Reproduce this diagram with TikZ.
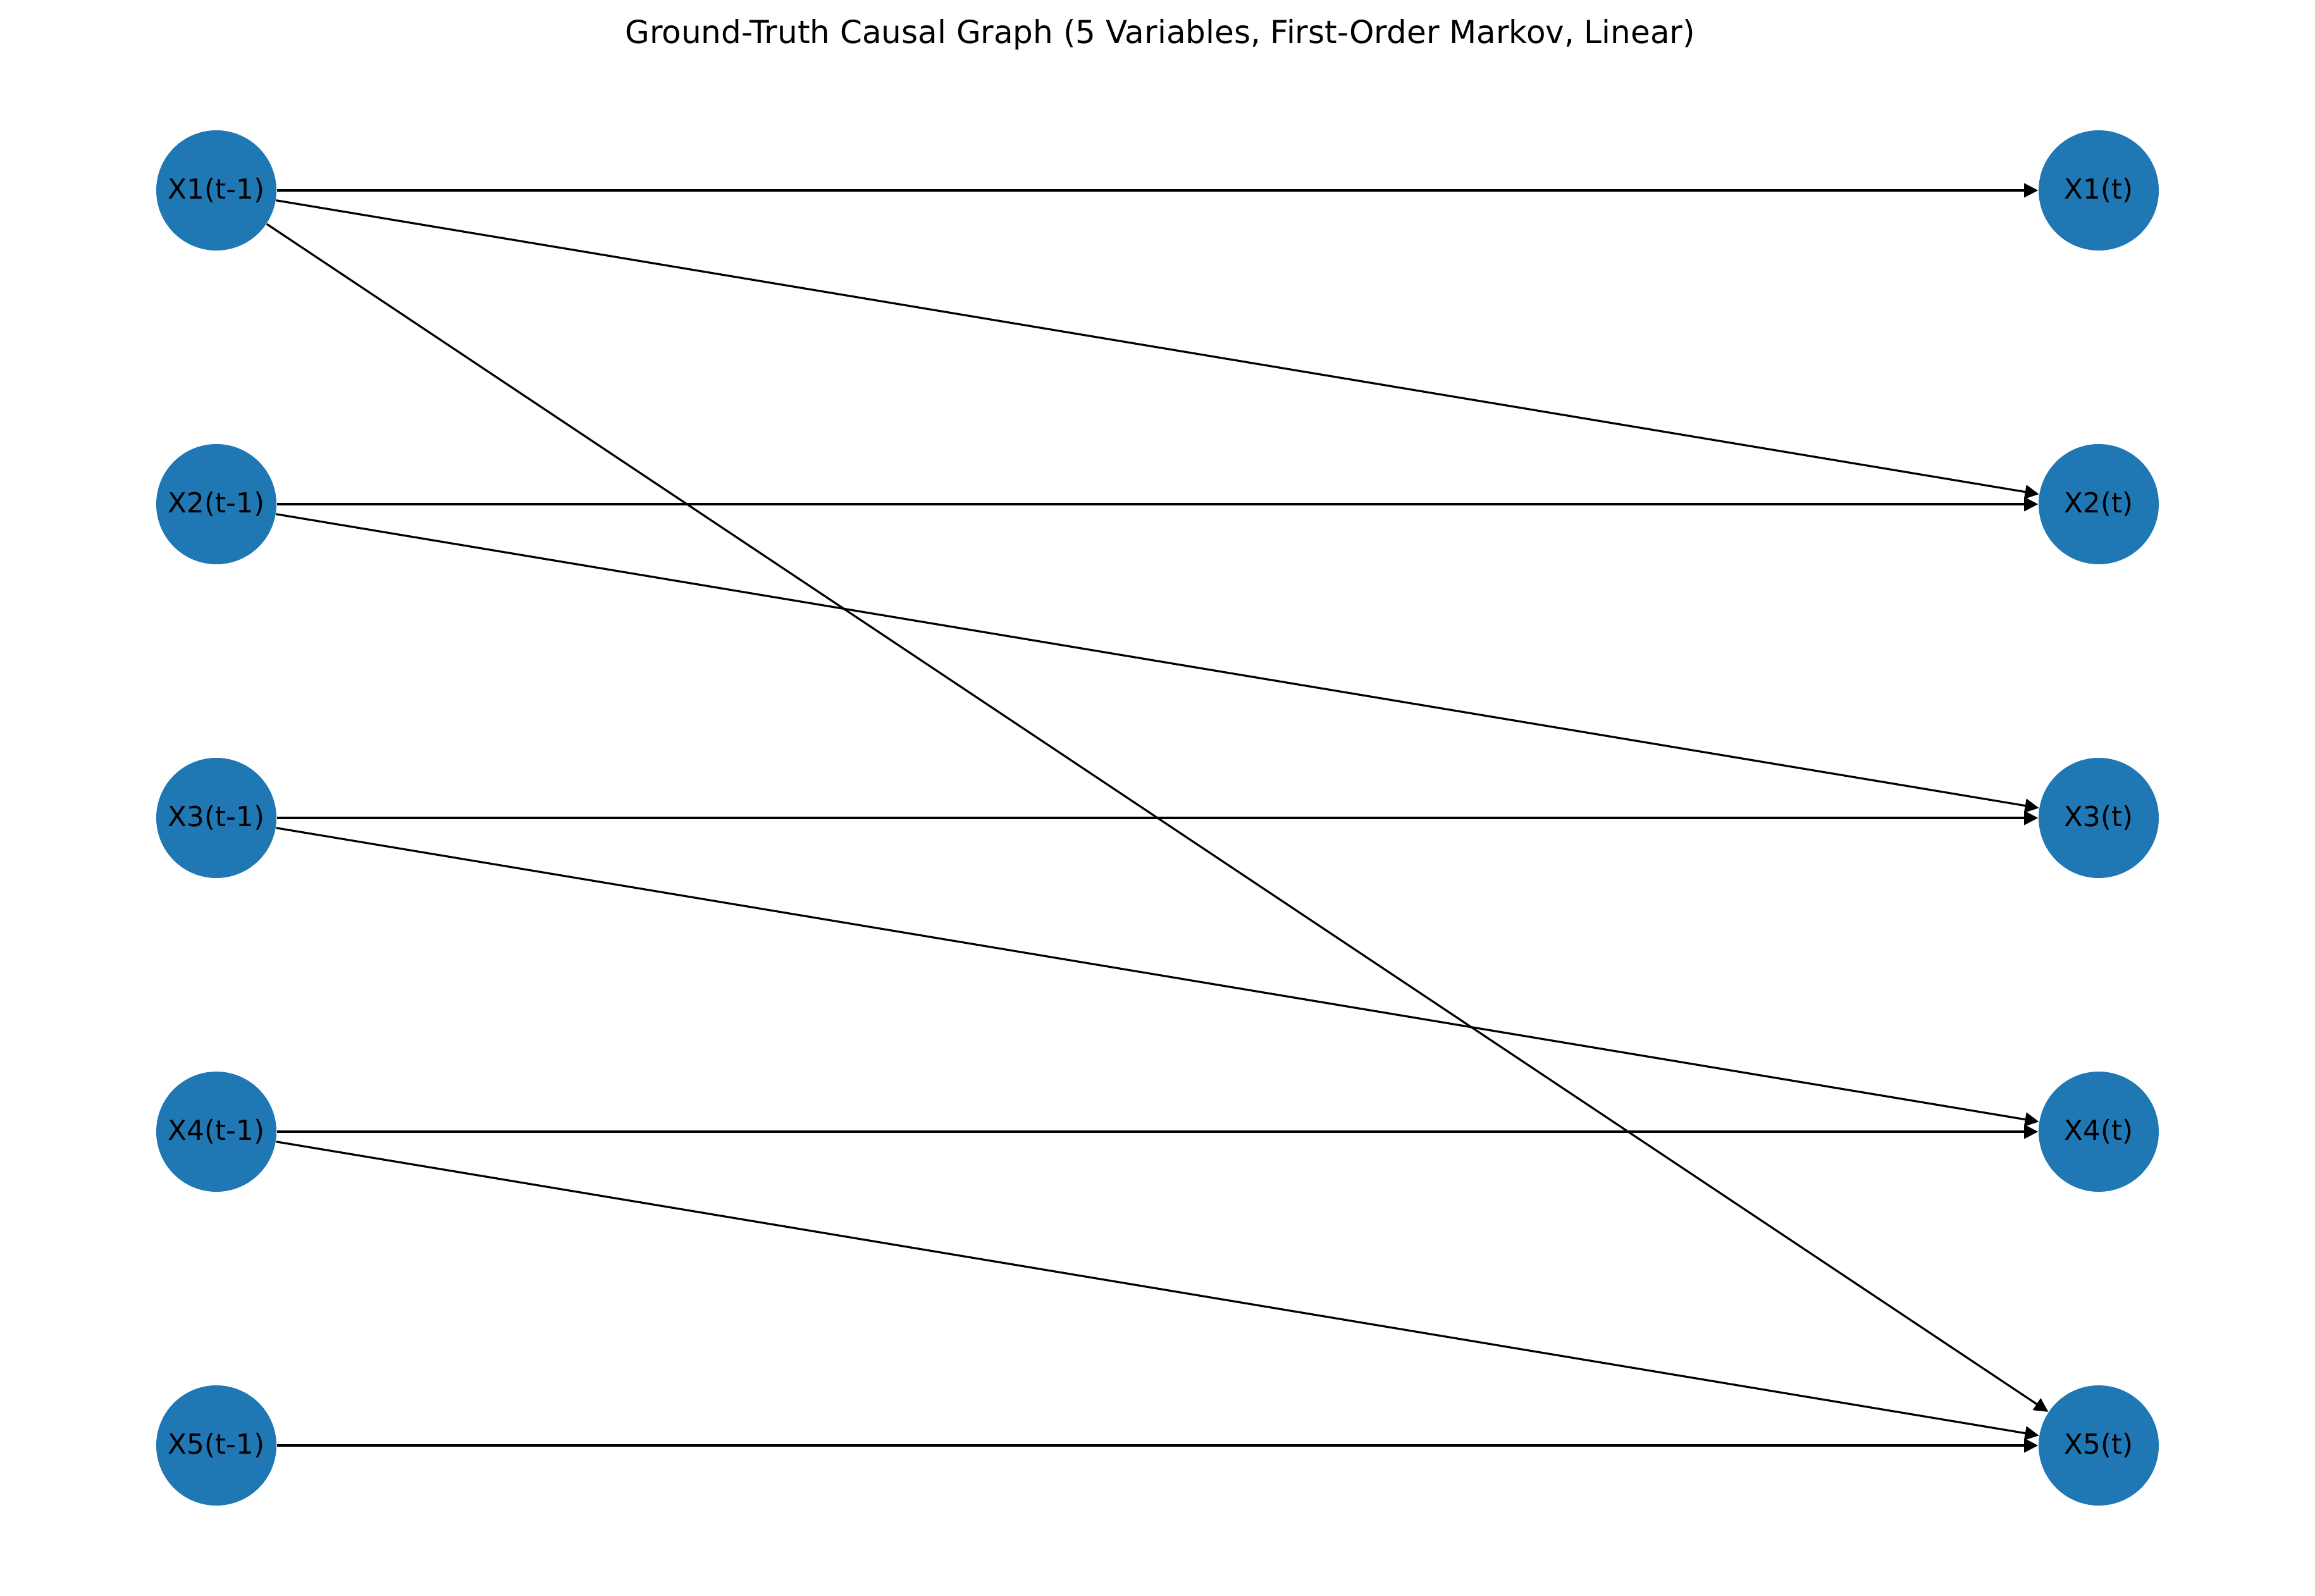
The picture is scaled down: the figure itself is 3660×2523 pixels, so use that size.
\documentclass[tikz,border=0pt]{standalone}
\usepackage{fontspec}
\setmainfont{DejaVu Sans}
\usetikzlibrary{arrows.meta}
\definecolor{nodeblue}{RGB}{31,119,180}
\tikzset{
  var/.style={circle, fill=nodeblue, minimum size=47.5pt, inner sep=0pt, font=\fontsize{10.9}{13}\selectfont, text=black},
  edge/.style={-{Triangle[length=5.5pt,width=5.5pt]}, line width=0.8pt, black}
}
\begin{document}
\begin{tikzpicture}[x=0.25pt, y=-0.25pt]
\useasboundingbox (0,0) rectangle (3660,2523);
\node[anchor=base, font=\fontsize{12.5}{15}\selectfont] (title) at (1834,68.5) {Ground-Truth Causal Graph (5 Variables, First-Order Markov, Linear)};
\foreach \i/\y in {1/301,2/797,3/1293,4/1789,5/2285}{
  \node[var] (a\i) at (342,\y) {X\i(t-1)};
  \node[var] (b\i) at (3318,\y) {X\i(t)};
}
\draw[edge] (a1) -- (b1);
\draw[edge] (a1) -- (b2);
\draw[edge] (a1) -- (b5);
\draw[edge] (a2) -- (b2);
\draw[edge] (a2) -- (b3);
\draw[edge] (a3) -- (b3);
\draw[edge] (a3) -- (b4);
\draw[edge] (a4) -- (b4);
\draw[edge] (a4) -- (b5);
\draw[edge] (a5) -- (b5);
\end{tikzpicture}
\end{document}
